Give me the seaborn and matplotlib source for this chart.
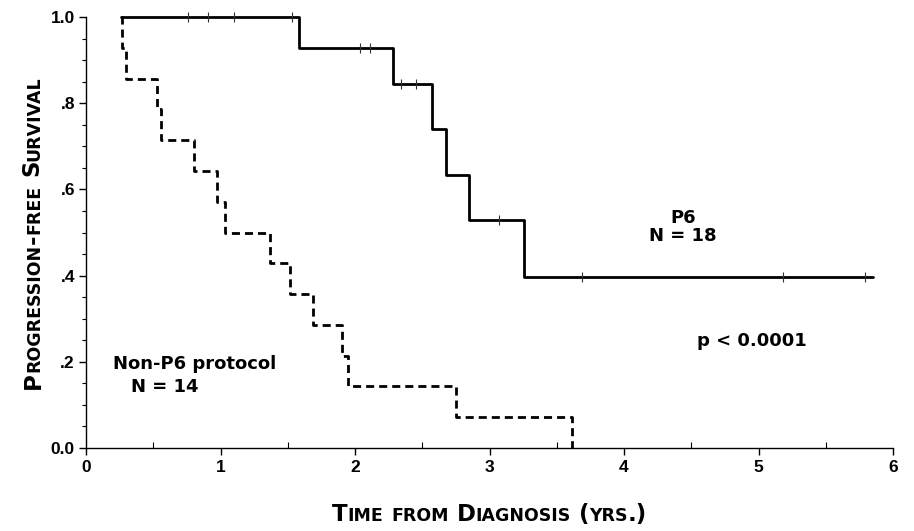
import matplotlib
matplotlib.use("Agg")
import matplotlib.pyplot as plt
from matplotlib.ticker import MultipleLocator, FixedLocator
import seaborn as sns
import pandas as pd

# ---- data ----
p6_start = 0.26
p6_event_time = [1.58, 2.285, 2.575, 2.68, 2.85, 3.26]
p6_surv = [0.929, 0.844, 0.739, 0.633, 0.528, 0.396]
p6_end = 5.85
p6_censor_time = [0.76, 0.91, 1.10, 1.53, 2.04, 2.11, 2.34, 2.45, 3.07, 3.69, 5.18, 5.79]
p6_censor_surv = [1.0, 1.0, 1.0, 1.0, 0.929, 0.929, 0.844, 0.844, 0.528, 0.396, 0.396, 0.396]

np6_start = 0.26
np6_event_time = [0.265, 0.30, 0.525, 0.56, 0.805, 0.976, 1.03, 1.37, 1.52, 1.69, 1.90, 1.95, 2.75, 3.61]
np6_surv = [0.929, 0.857, 0.786, 0.714, 0.643, 0.571, 0.500, 0.429, 0.357, 0.286, 0.214, 0.143, 0.071, 0.0]

x_ticks = [0, 1, 2, 3, 4, 5, 6]
y_ticks = [0.0, 0.2, 0.4, 0.6, 0.8, 1.0]
y_tick_labels = ["0.0", ".2", ".4", ".6", ".8", "1.0"]

x_label = "Time from Diagnosis (yrs.)"
y_label = "Progression-free Survival"

sns.set_theme(style="ticks")
plt.rcParams["font.family"] = ["Liberation Sans", "DejaVu Sans"]
plt.rcParams["font.weight"] = "bold"
plt.rcParams["text.color"] = "black"
plt.rcParams["axes.labelcolor"] = "black"

fig = plt.figure(figsize=(9.14, 5.31), dpi=100)
ax = fig.add_axes([86 / 914, 1 - 448 / 531, (893 - 86) / 914, (448 - 17) / 531])

p6_df = pd.DataFrame({
    "t": [p6_start] + p6_event_time + [p6_end],
    "s": [1.0] + p6_surv + [p6_surv[-1]],
})
np6_df = pd.DataFrame({
    "t": [np6_start] + np6_event_time,
    "s": [1.0] + np6_surv,
})

sns.lineplot(data=p6_df, x="t", y="s", ax=ax, sort=False, estimator=None,
             drawstyle="steps-post", color="black", linewidth=2.0, clip_on=False)
sns.lineplot(data=np6_df, x="t", y="s", ax=ax, sort=False, estimator=None,
             drawstyle="steps-post", color="black", linewidth=2.0,
             linestyle=(0, (2.9, 1.8)), clip_on=False)
sns.scatterplot(x=p6_censor_time, y=p6_censor_surv, ax=ax, marker="|", s=60,
                color="#333333", linewidth=0.8, zorder=3, clip_on=False)

ax.set_xlim(0, 6)
ax.set_ylim(0, 1)
ax.set_xlabel("")
ax.set_ylabel("")
sns.despine(ax=ax)
for sp in ["left", "bottom"]:
    ax.spines[sp].set_linewidth(1.0)
    ax.spines[sp].set_color("black")

ax.xaxis.set_major_locator(FixedLocator(x_ticks))
ax.xaxis.set_minor_locator(MultipleLocator(0.5))
ax.yaxis.set_major_locator(FixedLocator(y_ticks))
ax.yaxis.set_minor_locator(MultipleLocator(0.05))
ax.set_yticklabels(y_tick_labels)
ax.set_xticklabels([str(v) for v in x_ticks])

ax.tick_params(axis="x", which="major", direction="out", length=5, width=1, pad=4,
               labelsize=12.5, colors="black")
ax.tick_params(axis="x", which="minor", direction="in", length=4, width=0.8, colors="black")
ax.tick_params(axis="y", which="major", direction="out", length=5, width=1, pad=3,
               labelsize=12.5, colors="black")
ax.tick_params(axis="y", which="minor", direction="out", length=3, width=0.8, colors="black")
for lab in ax.get_xticklabels() + ax.get_yticklabels():
    lab.set_fontweight("bold")
for lab in ax.get_xticklabels():
    lab.set_family(["Liberation Sans Narrow", "Liberation Sans", "DejaVu Sans"])

# annotations
ann_font = dict(fontsize=13, fontweight="bold", family=["DejaVu Sans"], color="black")
ax.text(0.20, 0.184, "Non-P6 protocol", ha="left", va="baseline", **ann_font)
ax.text(0.587, 0.130, "N = 14", ha="center", va="baseline", **ann_font)
ax.text(4.44, 0.522, "P6", ha="center", va="baseline", **ann_font)
ax.text(4.44, 0.481, "N = 18", ha="center", va="baseline", **ann_font)
ax.text(4.54, 0.237, "p < 0.0001", ha="left", va="baseline", **ann_font)

# ---- small-caps axis labels built from chained text pieces ----
LABEL_FAMILY = ["DejaVu Sans"]
BIG, SMALL = 16.5, 12.5


def sc_parts(s):
    out = []
    for ch in s:
        big = not ch.islower()
        if out and out[-1][1] == big:
            out[-1][0] += ch.upper()
        else:
            out.append([ch.upper(), big])
    return out


def build(s, x, y, rotation=0):
    pieces = []
    last = None
    prev_off = 0.0
    for txt, is_big in sc_parts(s):
        size = BIG if is_big else SMALL
        off = 0.0 if is_big else 0.235 * (BIG - SMALL)
        kw = dict(fontsize=size, fontweight="bold", family=LABEL_FAMILY, color="black")
        if last is None:
            if rotation == 0:
                last = fig.text(x, y, txt, ha="left", va="bottom", **kw)
            else:
                last = fig.text(x, y, txt, ha="right", va="bottom", rotation=90, **kw)
        else:
            d = off - prev_off
            if rotation == 0:
                last = ax.annotate(txt, xy=(1, 0), xycoords=last, xytext=(0, d),
                                   textcoords="offset points", ha="left", va="bottom",
                                   annotation_clip=False, **kw)
            else:
                last = ax.annotate(txt, xy=(1, 1), xycoords=last, xytext=(-d, 0),
                                   textcoords="offset points", ha="right", va="bottom",
                                   rotation=90, annotation_clip=False, **kw)
        pieces.append(last)
        prev_off = off
    return pieces


xl = build(x_label, 0.3, 1 - 526 / 531)
yl = build(y_label, 45 / 914, 0.2, rotation=90)

# centre both labels on the axes
fig.canvas.draw()
r = fig.canvas.get_renderer()
axbb = ax.get_window_extent(r)
W, H = fig.bbox.width, fig.bbox.height
b0 = xl[0].get_window_extent(r)
b1 = xl[-1].get_window_extent(r)
total = b1.x1 - b0.x0
x0 = (axbb.x0 + axbb.x1) / 2 - total / 2
xl[0].set_x(x0 / W)
b0 = yl[0].get_window_extent(r)
b1 = yl[-1].get_window_extent(r)
total = b1.y1 - b0.y0
y0 = (axbb.y0 + axbb.y1) / 2 - total / 2
yl[0].set_y(y0 / H)

fig.savefig("out.png", dpi=100)
